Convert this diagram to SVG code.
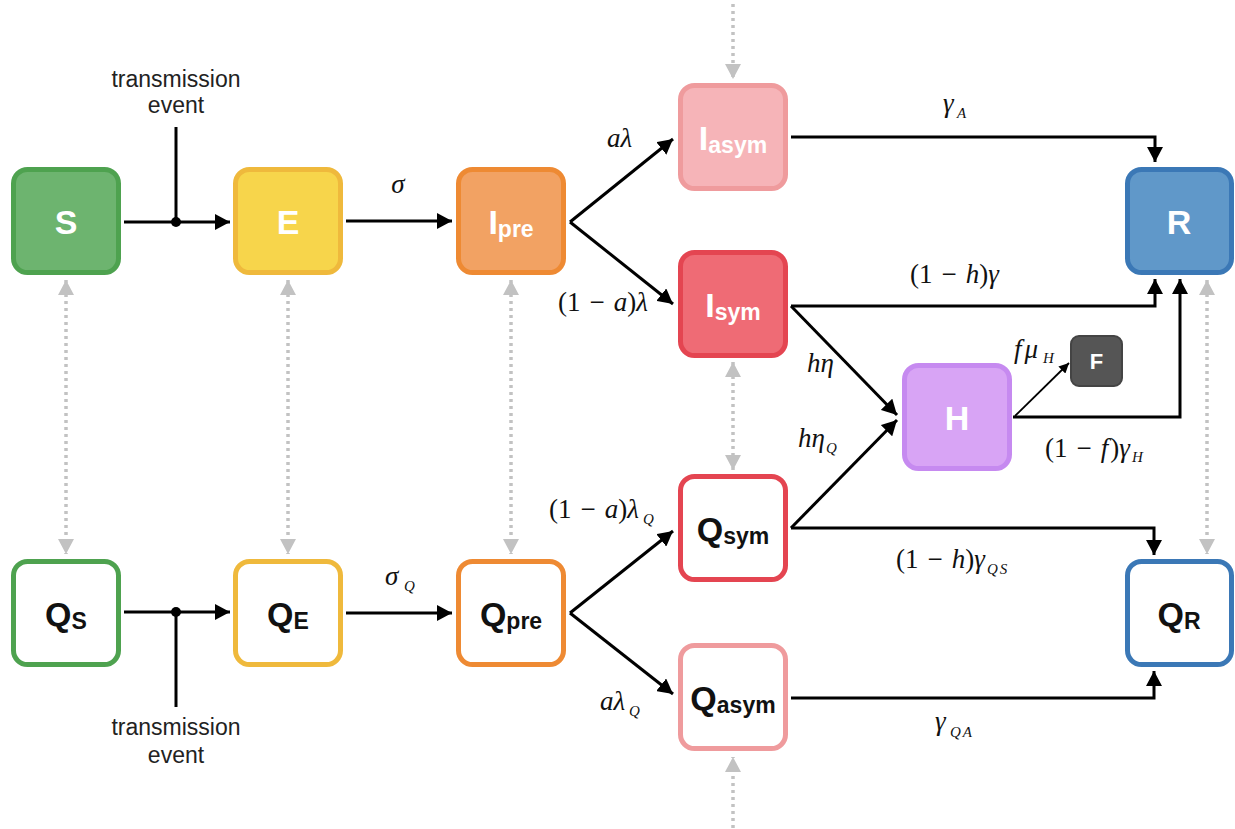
<svg xmlns="http://www.w3.org/2000/svg" width="1235" height="829" viewBox="0 0 1235 829">
<defs>
<style>
.box{stroke-width:5}
.gS{fill:#6db46f;stroke:#4ea24f}
.gE{fill:#f7d54b;stroke:#efb93c}
.gP{fill:#f2a263;stroke:#ee8a33}
.gA{fill:#f6b4b8;stroke:#ef9b9d}
.gY{fill:#ef6b75;stroke:#e44551}
.gH{fill:#d8a4f5;stroke:#c68af0}
.gR{fill:#6098c9;stroke:#3b78b6}
.qS{fill:#fff;stroke:#4ea24f}
.qE{fill:#fff;stroke:#efb93c}
.qP{fill:#fff;stroke:#ee8a33}
.qA{fill:#fff;stroke:#ef9b9d}
.qY{fill:#fff;stroke:#e44551}
.qR{fill:#fff;stroke:#3b78b6}
.lbl{font-family:"Liberation Sans",Arial,sans-serif;font-weight:bold;font-size:34px;text-anchor:middle}
.s{font-size:23px}
.w{fill:#fff}
.k{fill:#111}
.m{font-family:"Liberation Serif","Times New Roman",serif;font-size:27px;fill:#111}
.i{font-style:italic}
.sub{font-size:15px;font-style:italic}
.tx{font-family:"Liberation Sans",Arial,sans-serif;font-size:23px;fill:#222;text-anchor:middle}
.conn{stroke:#000;stroke-width:3;fill:none}
.thin{stroke:#000;stroke-width:1.8;fill:none}
.dot{stroke:#c2c2c2;stroke-width:3.5;stroke-dasharray:3 4;fill:none}
</style>
<marker id="ah" markerUnits="userSpaceOnUse" markerWidth="16" markerHeight="16" refX="15" refY="8" orient="auto"><path d="M0,0 L15,8 L0,16 z" fill="#000"/></marker>
<marker id="ahs" markerUnits="userSpaceOnUse" markerWidth="11" markerHeight="10" refX="10" refY="5" orient="auto"><path d="M0,0 L10,5 L0,10 z" fill="#000"/></marker>
<marker id="gh" markerUnits="userSpaceOnUse" markerWidth="16" markerHeight="16" refX="15" refY="8" orient="auto-start-reverse"><path d="M0,0 L15,8 L0,16 z" fill="#c2c2c2"/></marker>
</defs>
<rect width="1235" height="829" fill="#fff"/>

<g id="connectors">
<path class="dot" d="M66,280 V554" marker-start="url(#gh)" marker-end="url(#gh)"/>
<path class="dot" d="M288,280 V554" marker-start="url(#gh)" marker-end="url(#gh)"/>
<path class="dot" d="M511,280 V554" marker-start="url(#gh)" marker-end="url(#gh)"/>
<path class="dot" d="M733,362 V470" marker-start="url(#gh)" marker-end="url(#gh)"/>
<path class="dot" d="M1207,280 V554" marker-start="url(#gh)" marker-end="url(#gh)"/>
<path class="dot" d="M733,4 V79" marker-end="url(#gh)"/>
<path class="dot" d="M733,828 V757" marker-end="url(#gh)"/>
<path class="conn" d="M124,222 H230" marker-end="url(#ah)"/>
<path class="conn" d="M176,127 V222"/>
<circle cx="176" cy="222" r="5" fill="#000"/>
<path class="conn" d="M124,612 H230" marker-end="url(#ah)"/>
<path class="conn" d="M176,612 V707"/>
<circle cx="176" cy="612" r="5" fill="#000"/>
<path class="conn" d="M346,221 H452" marker-end="url(#ah)"/>
<path class="conn" d="M346,613 H452" marker-end="url(#ah)"/>
<path class="conn" d="M570,222 L673,139" marker-end="url(#ah)"/>
<path class="conn" d="M570,222 L673,304" marker-end="url(#ah)"/>
<path class="conn" d="M570,613 L673,531" marker-end="url(#ah)"/>
<path class="conn" d="M570,613 L673,694" marker-end="url(#ah)"/>
<path class="conn" d="M791,137 H1155 V162" marker-end="url(#ah)"/>
<path class="conn" d="M791,306 H1155 V279" marker-end="url(#ah)"/>
<path class="conn" d="M1013,417 H1180 V279" marker-end="url(#ah)"/>
<path class="conn" d="M791,306 L897,415" marker-end="url(#ah)"/>
<path class="conn" d="M791,528 L897,420" marker-end="url(#ah)"/>
<path class="thin" d="M1015,416 L1069,363" marker-end="url(#ahs)"/>
<path class="conn" d="M791,528 H1154 V555" marker-end="url(#ah)"/>
<path class="conn" d="M791,698 H1154 V671" marker-end="url(#ah)"/>
</g>

<g id="labels">
<text class="tx" x="176" y="87">transmission</text>
<text class="tx" x="176" y="113">event</text>
<text class="tx" x="176" y="735">transmission</text>
<text class="tx" x="176" y="763">event</text>
<text class="m i" x="398" y="193" text-anchor="middle">σ</text>
<text class="m i" x="385" y="585">σ</text><text class="m sub" x="404" y="591">Q</text>
<text class="m i" x="607" y="147">aλ</text>
<text class="m" x="558" y="311">(1<tspan dx="9">−</tspan><tspan dx="9" class="i">a</tspan>)<tspan class="i">λ</tspan></text>
<text class="m i" x="943" y="112">γ</text><text class="m sub" x="957" y="118">A</text>
<text class="m" x="910" y="283">(1<tspan dx="9">−</tspan><tspan dx="9" class="i">h</tspan>)<tspan class="i">γ</tspan></text>
<text class="m i" x="807" y="372">hη</text>
<text class="m i" x="798" y="447">hη</text><text class="m sub" x="826" y="453">Q</text>
<text class="m i" x="1014" y="358">f<tspan dx="3">μ</tspan></text><text class="m sub" x="1043" y="363">H</text>
<text class="m" x="1045" y="457">(1<tspan dx="9">−</tspan><tspan dx="9" class="i">f</tspan><tspan dx="2">)</tspan><tspan class="i">γ</tspan></text><text class="m sub" x="1132" y="462">H</text>
<text class="m" x="549" y="518">(1<tspan dx="9">−</tspan><tspan dx="9" class="i">a</tspan>)<tspan class="i">λ</tspan></text><text class="m sub" x="643" y="524">Q</text>
<text class="m i" x="600" y="710">aλ</text><text class="m sub" x="629" y="716">Q</text>
<text class="m" x="896" y="568">(1<tspan dx="9">−</tspan><tspan dx="9" class="i">h</tspan>)<tspan class="i">γ</tspan></text><text class="m sub" x="987" y="574" letter-spacing="2">QS</text>
<text class="m i" x="935" y="730">γ</text><text class="m sub" x="950" y="737" letter-spacing="2">QA</text>
</g>

<g id="node-S"><rect class="box gS" x="13.5" y="169.5" width="105" height="103" rx="14"/><text class="lbl w" x="66" y="234">S</text></g>
<g id="node-E"><rect class="box gE" x="235.5" y="169.5" width="105" height="103" rx="14"/><text class="lbl w" x="288" y="234">E</text></g>
<g id="node-Ipre"><rect class="box gP" x="458.5" y="169.5" width="105" height="103" rx="14"/><text class="lbl w" x="511" y="234">I<tspan class="s" dy="3">pre</tspan></text></g>
<g id="node-Iasym"><rect class="box gA" x="680.5" y="85.5" width="105" height="103" rx="14"/><text class="lbl w" x="733" y="150">I<tspan class="s" dy="3">asym</tspan></text></g>
<g id="node-Isym"><rect class="box gY" x="680.5" y="252.5" width="105" height="103" rx="14"/><text class="lbl w" x="733" y="317">I<tspan class="s" dy="3">sym</tspan></text></g>
<g id="node-H"><rect class="box gH" x="904.5" y="365.5" width="105" height="103" rx="14"/><text class="lbl w" x="957" y="430">H</text></g>
<g id="node-F"><rect x="1071" y="336" width="51" height="50" rx="8" fill="#555" stroke="#444" stroke-width="2"/><text class="lbl w" x="1096.5" y="369" style="font-size:22px">F</text></g>
<g id="node-R"><rect class="box gR" x="1127.5" y="169.5" width="104" height="103" rx="14"/><text class="lbl w" x="1179" y="234">R</text></g>
<g id="node-QS"><rect class="box qS" x="13.5" y="561.5" width="105" height="103" rx="14"/><text class="lbl k" x="66" y="626">Q<tspan class="s" dy="3">S</tspan></text></g>
<g id="node-QE"><rect class="box qE" x="235.5" y="561.5" width="105" height="103" rx="14"/><text class="lbl k" x="288" y="626">Q<tspan class="s" dy="3">E</tspan></text></g>
<g id="node-Qpre"><rect class="box qP" x="458.5" y="561.5" width="105" height="103" rx="14"/><text class="lbl k" x="511" y="626">Q<tspan class="s" dy="3">pre</tspan></text></g>
<g id="node-Qsym"><rect class="box qY" x="680.5" y="476.5" width="105" height="103" rx="14"/><text class="lbl k" x="733" y="541">Q<tspan class="s" dy="3">sym</tspan></text></g>
<g id="node-Qasym"><rect class="box qA" x="680.5" y="645.5" width="105" height="103" rx="14"/><text class="lbl k" x="733" y="710">Q<tspan class="s" dy="3">asym</tspan></text></g>
<g id="node-QR"><rect class="box qR" x="1127.5" y="561.5" width="104" height="103" rx="14"/><text class="lbl k" x="1179" y="626">Q<tspan class="s" dy="3">R</tspan></text></g>
</svg>
